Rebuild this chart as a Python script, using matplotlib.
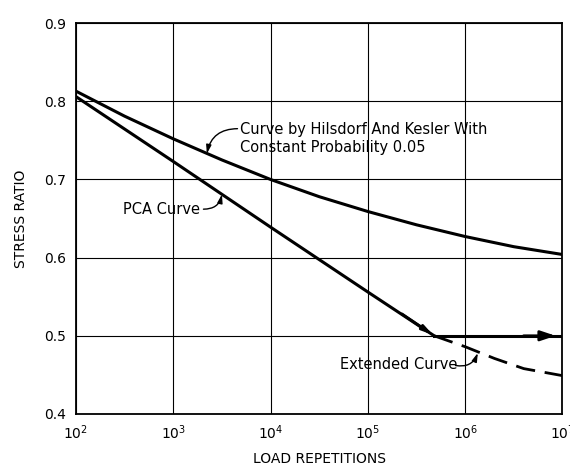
import matplotlib.pyplot as plt
from matplotlib.ticker import FixedLocator, NullLocator

# curve by Hilsdorf and Kesler (constant probability 0.05)
hk_reps = [1e2, 3.16e2, 1e3, 3.16e3, 1e4, 3.16e4, 1e5, 3.16e5, 1e6, 3.16e6, 1e7]
hk_ratio = [0.813, 0.781, 0.752, 0.725, 0.700, 0.678, 0.659, 0.642, 0.627, 0.614, 0.604]

# PCA curve, then held at 0.5
pca_reps = [1e2, 1e3, 1e4, 1e5, 4.8e5]
pca_ratio = [0.806, 0.723, 0.639, 0.556, 0.500]
flat_reps = [4.8e5, 1e7]
flat_ratio = [0.500, 0.500]

# extended curve (dashed)
ext_reps = [4.8e5, 1e6, 2e6, 4e6, 1e7]
ext_ratio = [0.500, 0.486, 0.471, 0.458, 0.449]

xticks = [1e2, 1e3, 1e4, 1e5, 1e6, 1e7]
xtick_labels = [r'$10^{2}$', r'$10^{3}$', r'$10^{4}$', r'$10^{5}$', r'$10^{6}$', r'$10^{7}$']
yticks = [0.4, 0.5, 0.6, 0.7, 0.8, 0.9]
ytick_labels = ['0.4', '0.5', '0.6', '0.7', '0.8', '0.9']

fig = plt.figure(figsize=(5.7, 4.68), dpi=100)
ax = fig.add_axes([0.1333, 0.1155, 0.8535, 0.835])

ax.set_xscale('log')
ax.set_xlim(1e2, 1e7)
ax.set_ylim(0.4, 0.9)
ax.xaxis.set_major_locator(FixedLocator(xticks))
ax.xaxis.set_minor_locator(NullLocator())
ax.set_xticks(xticks, xtick_labels)
ax.set_yticks(yticks, ytick_labels)
ax.tick_params(length=0, labelsize=10, pad=7)
ax.grid(True, color='k', lw=0.8)
for s in ax.spines.values():
    s.set_linewidth(1.3)

ax.plot(hk_reps, hk_ratio, color='k', lw=2.2, zorder=3)
ax.plot(pca_reps, pca_ratio, color='k', lw=2.2, zorder=3)
ax.plot(flat_reps, flat_ratio, color='k', lw=2.2, zorder=3)
ax.plot(ext_reps, ext_ratio, color='k', lw=2.0, linestyle=(0, (7, 3.5)), zorder=3)

# arrow heads
ax.annotate('', xy=(10**6.93, 0.5), xytext=(10**6.6, 0.5),
            arrowprops=dict(arrowstyle='-|>,head_length=0.9,head_width=0.3', color='k', lw=2.0,
                            shrinkA=0, shrinkB=0))
ax.annotate('', xy=(10**5.67, 0.501), xytext=(10**5.35, 0.528),
            arrowprops=dict(arrowstyle='-|>,head_length=0.6,head_width=0.15', color='k', lw=2.0,
                            shrinkA=0, shrinkB=0))

# labels
ax.text(10**3.69, 0.764, 'Curve by Hilsdorf And Kesler With', ha='left', va='center', fontsize=10.5)
ax.text(10**3.69, 0.741, 'Constant Probability 0.05', ha='left', va='center', fontsize=10.5)
ax.text(10**2.48, 0.662, 'PCA Curve', ha='left', va='center', fontsize=10.5)
ax.text(10**4.71, 0.463, 'Extended Curve', ha='left', va='center', fontsize=10.5)

# leaders
leader = dict(arrowstyle='-|>,head_length=0.5,head_width=0.15', color='k', lw=1.0,
              shrinkA=0, shrinkB=0)
ax.annotate('', xy=(10**3.345, 0.733), xytext=(10**3.66, 0.765),
            arrowprops=dict(leader, connectionstyle='arc3,rad=0.4'))
ax.annotate('', xy=(10**3.5, 0.681), xytext=(10**3.31, 0.662),
            arrowprops=dict(leader, connectionstyle='arc3,rad=0.4'))
ax.annotate('', xy=(10**6.13, 0.478), xytext=(10**5.9, 0.462),
            arrowprops=dict(leader, connectionstyle='arc3,rad=0.4'))

ax.set_xlabel('LOAD REPETITIONS', fontsize=10, labelpad=7)
ax.set_ylabel('STRESS RATIO', fontsize=10, labelpad=12)

fig.savefig('out.png', dpi=100)
